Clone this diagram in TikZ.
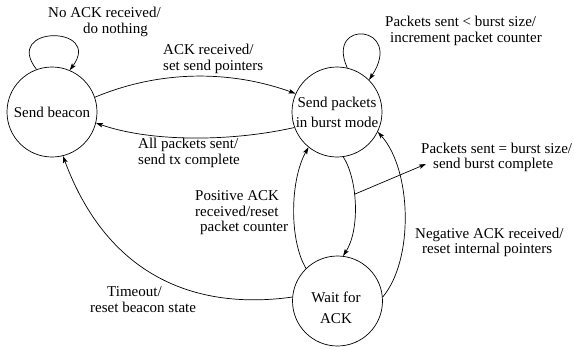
\documentclass[tikz,border=0pt]{standalone}
\usepackage{fontspec}
\setmainfont{Liberation Serif}
\usetikzlibrary{arrows.meta}
\begin{document}
\begin{tikzpicture}[x=1pt,y=-1pt,
  state/.style={draw, circle, minimum size=90pt, inner sep=0pt, line width=0.7pt, font=\fontsize{15}{20}\selectfont, align=center},
  stext/.style={inner sep=0pt, font=\fontsize{15}{21}\selectfont, align=center},
  lbl/.style={font=\fontsize{15}{15.5}\selectfont, align=left, inner sep=0pt, anchor=west},
  edge/.style={draw, line width=0.7pt, -{Stealth[length=7pt,width=4.5pt,inset=1.5pt]}},
]
\useasboundingbox (0,0) rectangle (574,349);

% states
\node[state] (A) at (52,112) {Send beacon};
\node[state] (B) at (337,112) {Send packets\\in burst mode};
\node[state] (C) at (337.5,301) {};
\node[stext] (Ct) at (336,307.5) {Wait for\\ACK};

% labels
\node[lbl] (l1) at (48,22) {No ACK received/\\\hspace*{35pt}do nothing};
\node[lbl] (l2) at (163,59) {ACK received/\\set send pointers};
\node[lbl] (l3) at (138,153) {All packets sent/\\send tx complete};
\node[lbl] (l4) at (385,31) {Packets sent < burst size/\\\hspace*{5pt}increment packet counter};
\node[lbl] (l5) at (421,157.5) {Packets sent = burst size/\\\hspace*{12pt}send burst complete};
\node[lbl] (l6) at (195,213) {Positive ACK\\received/reset\\\hspace*{5pt}packet counter};
\node[lbl] (l7) at (90,299.5) {\hspace*{17pt}Timeout/\\reset beacon state};
\node[lbl] (l8) at (415,242.5) {Negative ACK received/\\\hspace*{7pt}reset internal pointers};

% connectors
\draw[edge] (A.110) .. controls (2,25) and (103,25) .. (A.67);
\draw[edge] (A.19) .. controls (160,70) and (230,70) .. (B.156);
\draw[edge] (B.200) .. controls (230,142) and (150,142) .. (A.-14);
\draw[edge] (B.77) .. controls (325,18) and (405,25) .. (B.45);
\draw[edge] (B.-82) .. controls (358,180) and (360,230) .. coordinate[pos=0.4] (m) (C.83);
\coordinate (pst) at (426,164);
\draw[edge] (m) -- (pst);
\draw[edge] (C.134) .. controls (289,240) and (290,180) .. (B.231);
\draw[edge] (C.5) .. controls (414,260) and (412,170) .. (B.-26);
\draw[edge] (C.175) .. controls (200,310) and (109,280) .. (A.-76);
\end{tikzpicture}
\end{document}
